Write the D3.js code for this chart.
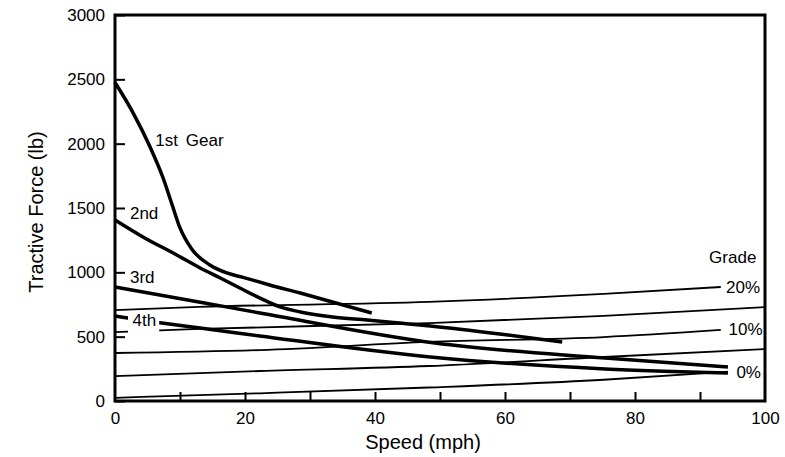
<!DOCTYPE html>
<html>
  <head>
    <title>Tractive force vs speed</title>
    <script src="https://d3js.org/d3.v7.min.js"></script>
    <style>
      body { margin: 0; background: #fff; }
      text { font-family: "Liberation Sans", Arial, sans-serif; fill: #000; }
    </style>
  </head>
  <body>
    <svg width="785" height="457"></svg>
</body>
</html>
<script>

// speed (mph) / tractive force (lb)
const gear1Speed = [0, 2.8, 5.4, 7.4, 8.8, 10, 11.8, 14.6, 17.2, 19.7, 23.8, 28.5, 39.5];
const gear1Force = [2475, 2238, 1974, 1733, 1523, 1345, 1181, 1057, 995, 961, 902, 839, 684];

const gear2Speed = [0, 4.3, 9.5, 13.1, 16.2, 19.2, 22.3, 25.4, 28.5, 33.5, 38.8, 43.8, 48.5, 59.2, 68.8];
const gear2Force = [1407, 1275, 1135, 1034, 956, 878, 800, 731, 692, 653, 630, 606, 583, 521, 459];

const gear3Speed = [0, 12.9, 22.3, 49.2, 75.4, 94.3];
const gear3Force = [886, 770, 684, 451, 334, 264];

const gear4Speed = [0, 7.2, 13.1, 22.3, 48.5, 75.4, 94.3];
const gear4Force = [661, 606, 567, 505, 342, 249, 218];

// road resistance for each grade
const grade20Speed = [0, 12.9, 48.3, 75.2, 93.2];
const grade20Force = [707, 731, 770, 832, 886];
const grade15Speed = [0, 12.9, 48.3, 75.2, 100];
const grade15Force = [536, 560, 606, 661, 730];
const grade10Speed = [0, 22.3, 48.3, 75.2, 93.2];
const grade10Force = [373, 396, 459, 497, 552];
const grade5Speed = [0, 22.3, 48.3, 75.2, 100];
const grade5Force = [194, 233, 272, 342, 404];
const grade0Speed = [0, 22.3, 48.3, 75.2, 94.3];
const grade0Force = [25, 60, 105, 165, 228];

const speedLabels = [0, 20, 40, 60, 80, 100];
const speedMinorTicks = [0, 10, 20, 30, 40, 50, 60, 70, 80, 90, 100];
const forceTicks = [0, 500, 1000, 1500, 2000, 2500, 3000];

const zip = (xs, ys) => xs.map((v, i) => [v, ys[i]]);

const gears = [
  zip(gear1Speed, gear1Force),
  zip(gear2Speed, gear2Force),
  zip(gear3Speed, gear3Force),
  zip(gear4Speed, gear4Force)
];
const grades = [
  zip(grade20Speed, grade20Force),
  zip(grade15Speed, grade15Force),
  zip(grade10Speed, grade10Force),
  zip(grade5Speed, grade5Force),
  zip(grade0Speed, grade0Force)
];

const svg = d3.select('svg');

const x = d3.scaleLinear().domain([0, 100]).range([115, 765]);
const y = d3.scaleLinear().domain([0, 3000]).range([401, 15]);

const line = d3.line()
  .x(d => x(d[0]))
  .y(d => y(d[1]))
  .curve(d3.curveMonotoneX);

// grade lines (thin)
svg.append('g')
  .selectAll('path')
  .data(grades)
  .join('path')
  .attr('d', line)
  .attr('fill', 'none')
  .attr('stroke', '#000')
  .attr('stroke-width', 1.8);

// gear curves (thick)
svg.append('g')
  .selectAll('path')
  .data(gears)
  .join('path')
  .attr('d', line)
  .attr('fill', 'none')
  .attr('stroke', '#000')
  .attr('stroke-width', 3.5);

// frame
svg.append('rect')
  .attr('x', x(0))
  .attr('y', y(3000))
  .attr('width', x(100) - x(0))
  .attr('height', y(0) - y(3000))
  .attr('fill', 'none')
  .attr('stroke', '#000')
  .attr('stroke-width', 3);

// axes
const yAxis = d3.axisLeft(y)
  .tickValues(forceTicks)
  .tickFormat(d3.format('d'))
  .tickSizeInner(-10)
  .tickSizeOuter(0)
  .tickPadding(10);

const xAxis = d3.axisBottom(x)
  .tickValues(speedMinorTicks)
  .tickFormat(d => speedLabels.includes(d) ? d : '')
  .tickSizeInner(-9)
  .tickSizeOuter(0)
  .tickPadding(11);

const gy = svg.append('g')
  .attr('transform', `translate(${x(0)},0)`)
  .call(yAxis);
const gx = svg.append('g')
  .attr('transform', `translate(0,${y(0)})`)
  .call(xAxis);

[gx, gy].forEach(g => {
  g.select('.domain').remove();
  g.selectAll('.tick line').attr('stroke', '#000').attr('stroke-width', 2);
  g.selectAll('.tick text')
    .style('font-family', '"Liberation Sans", Arial, sans-serif')
    .style('font-size', '17px')
    .attr('fill', '#000');
});
gx.selectAll('.tick')
  .filter(d => d === 0 || d === 100)
  .select('line').remove();

// axis titles
svg.append('text')
  .attr('transform', `translate(43,212) rotate(-90)`)
  .attr('text-anchor', 'middle')
  .style('font-size', '20px')
  .text('Tractive Force (lb)');

svg.append('text')
  .attr('x', 423)
  .attr('y', 449)
  .attr('text-anchor', 'middle')
  .style('font-size', '20px')
  .text('Speed (mph)');

// in-plot labels
const labelSize = '17px';

// white knock-out behind "4th"
svg.append('rect')
  .attr('x', x(2))
  .attr('y', y(700))
  .attr('width', x(6.8) - x(2))
  .attr('height', y(505) - y(700))
  .attr('fill', '#fff');

const lab = (v, f, txt) => svg.append('text')
  .attr('x', x(v))
  .attr('y', y(f))
  .style('font-size', labelSize)
  .text(txt);

lab(6.2, 1985, '1st');
lab(10.9, 1985, 'Gear');
lab(2.3, 1415, '2nd');
lab(2.3, 915, '3rd');
lab(2.7, 583, '4th');

lab(91.4, 1070, 'Grade');
lab(94, 840, '20%');
lab(94.4, 510, '10%');
lab(95.6, 180, '0%');

</script>
